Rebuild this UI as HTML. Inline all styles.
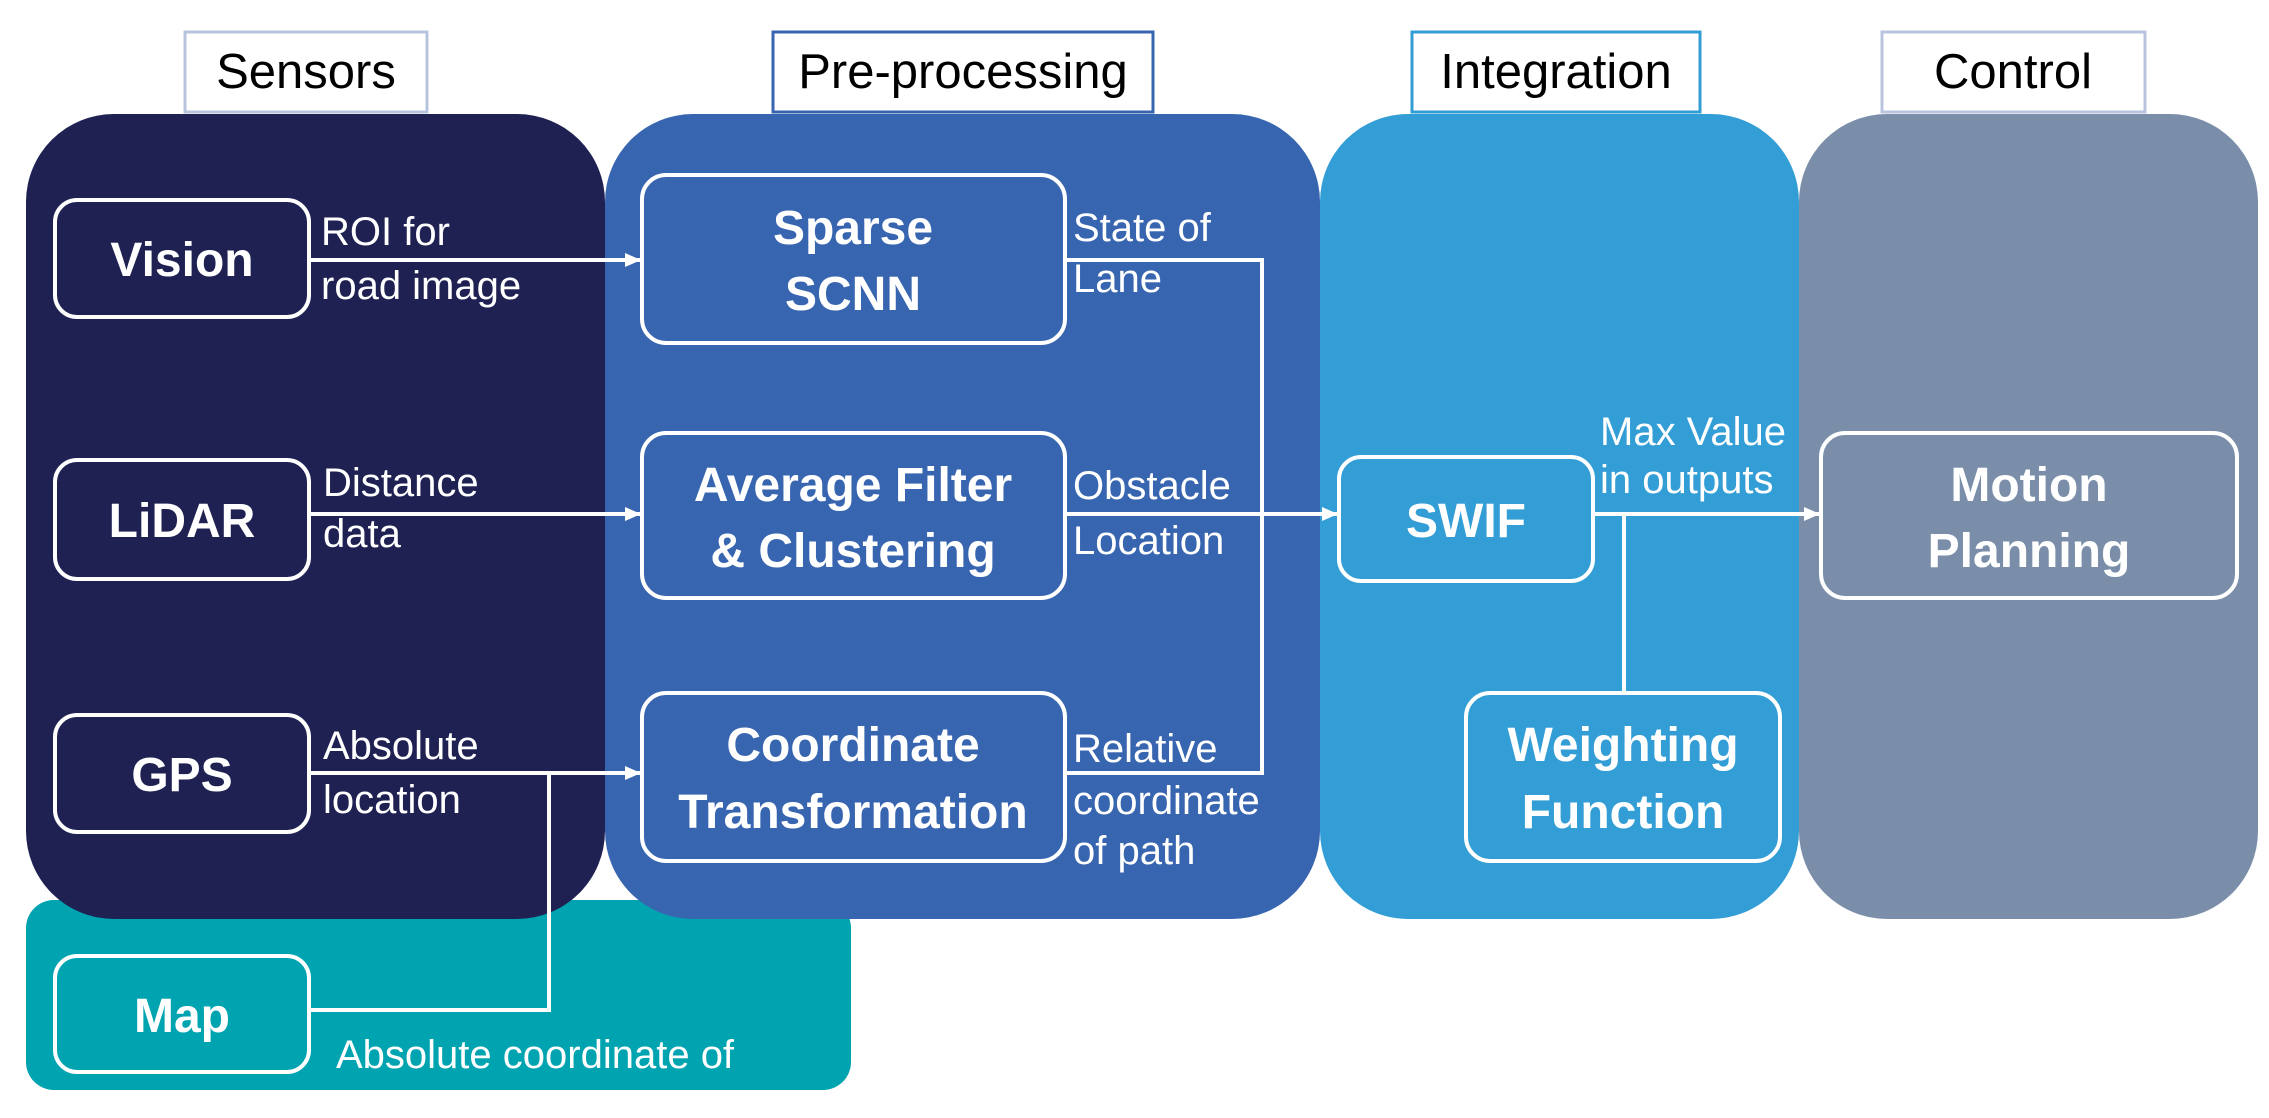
<!DOCTYPE html>
<html><head><meta charset="utf-8"><style>
html,body{margin:0;padding:0;background:#fff;width:2269px;height:1118px;overflow:hidden}
svg{display:block}
.h{font-family:"Liberation Sans",sans-serif;font-size:49px;fill:#000}
.n{font-family:"Liberation Sans",sans-serif;font-size:48px;font-weight:bold;fill:#fff}
.l{font-family:"Liberation Sans",sans-serif;font-size:40px;fill:#fff}
.b{fill:none;stroke:#fff;stroke-width:4}
.w{stroke:#fff;stroke-width:4;fill:none}
</style></head><body>
<svg width="2269" height="1118" viewBox="0 0 2269 1118" xmlns="http://www.w3.org/2000/svg">
<defs><marker id="a" markerWidth="16" markerHeight="16" refX="15" refY="8" orient="auto" markerUnits="userSpaceOnUse"><path d="M0,1 L16,8 L0,15 Z" fill="#fff"/></marker></defs>
<rect x="26" y="900" width="825" height="190" rx="28" fill="#00a3b0"/>
<rect x="1799" y="114" width="459" height="805" rx="88" fill="#7a8eaa"/>
<rect x="1320" y="114" width="479" height="805" rx="88" fill="#339dd6"/>
<rect x="605" y="114" width="715" height="805" rx="88" fill="#3865b0"/>
<rect x="26" y="114" width="579" height="805" rx="88" fill="#1f2152"/>
<rect x="185" y="32" width="242" height="80" fill="#fff" stroke="#b8c4de" stroke-width="3"/>
<text class="h" x="306" y="88" text-anchor="middle">Sensors</text>
<rect x="773" y="32" width="380" height="80" fill="#fff" stroke="#3865b0" stroke-width="3"/>
<text class="h" x="963" y="88" text-anchor="middle">Pre-processing</text>
<rect x="1412" y="32" width="288" height="80" fill="#fff" stroke="#339dd6" stroke-width="3"/>
<text class="h" x="1556" y="88" text-anchor="middle">Integration</text>
<rect x="1882" y="32" width="263" height="80" fill="#fff" stroke="#b8c4de" stroke-width="3"/>
<text class="h" x="2013" y="88" text-anchor="middle">Control</text>
<rect class="b" x="55" y="200" width="254" height="117" rx="22"/>
<text class="n" x="182" y="276" text-anchor="middle">Vision</text>
<rect class="b" x="55" y="460" width="254" height="119" rx="22"/>
<text class="n" x="182" y="537" text-anchor="middle">LiDAR</text>
<rect class="b" x="55" y="715" width="254" height="117" rx="22"/>
<text class="n" x="182" y="791" text-anchor="middle">GPS</text>
<rect class="b" x="55" y="956" width="254" height="116" rx="22"/>
<text class="n" x="182" y="1032" text-anchor="middle">Map</text>
<rect class="b" x="642" y="175" width="423" height="168" rx="24"/>
<text class="n" x="853" y="244" text-anchor="middle">Sparse</text>
<text class="n" x="853" y="310" text-anchor="middle">SCNN</text>
<rect class="b" x="642" y="433" width="423" height="165" rx="24"/>
<text class="n" x="853" y="501" text-anchor="middle">Average Filter</text>
<text class="n" x="853" y="567" text-anchor="middle">&amp; Clustering</text>
<rect class="b" x="642" y="693" width="423" height="168" rx="24"/>
<text class="n" x="853" y="761" text-anchor="middle">Coordinate</text>
<text class="n" x="853" y="828" text-anchor="middle">Transformation</text>
<rect class="b" x="1339" y="457" width="254" height="124" rx="22"/>
<text class="n" x="1466" y="537" text-anchor="middle">SWIF</text>
<rect class="b" x="1466" y="693" width="314" height="168" rx="24"/>
<text class="n" x="1623" y="761" text-anchor="middle">Weighting</text>
<text class="n" x="1623" y="828" text-anchor="middle">Function</text>
<rect class="b" x="1821" y="433" width="416" height="165" rx="24"/>
<text class="n" x="2029" y="501" text-anchor="middle">Motion</text>
<text class="n" x="2029" y="567" text-anchor="middle">Planning</text>
<line class="w" x1="309" y1="260" x2="640" y2="260" marker-end="url(#a)"/>
<line class="w" x1="309" y1="514" x2="640" y2="514" marker-end="url(#a)"/>
<line class="w" x1="309" y1="773" x2="640" y2="773" marker-end="url(#a)"/>
<polyline class="w" points="309,1010 549,1010 549,773"/>
<polyline class="w" points="1065,260 1262,260 1262,773 1065,773"/>
<line class="w" x1="1065" y1="514" x2="1337" y2="514" marker-end="url(#a)"/>
<line class="w" x1="1593" y1="514" x2="1819" y2="514" marker-end="url(#a)"/>
<line class="w" x1="1624" y1="514" x2="1624" y2="693"/>
<text class="l" x="321" y="245">ROI for</text>
<text class="l" x="321" y="299">road image</text>
<text class="l" x="323" y="496">Distance</text>
<text class="l" x="323" y="547">data</text>
<text class="l" x="323" y="759">Absolute</text>
<text class="l" x="323" y="813">location</text>
<text class="l" x="1073" y="241">State of</text>
<text class="l" x="1073" y="292">Lane</text>
<text class="l" x="1073" y="499">Obstacle</text>
<text class="l" x="1073" y="554">Location</text>
<text class="l" x="1073" y="762">Relative</text>
<text class="l" x="1073" y="814">coordinate</text>
<text class="l" x="1073" y="864">of path</text>
<text class="l" x="1600" y="445">Max Value</text>
<text class="l" x="1600" y="493">in outputs</text>
<text class="l" x="336" y="1068">Absolute coordinate of</text>
</svg>
</body></html>
